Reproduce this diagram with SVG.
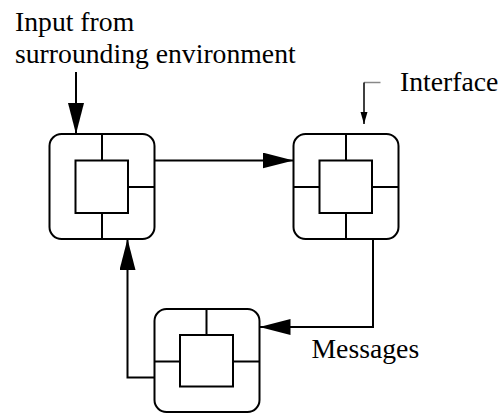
<svg xmlns="http://www.w3.org/2000/svg" width="499" height="413" viewBox="0 0 499 413">
<defs>
<style>
.frame{fill:#fff;stroke:#000;stroke-width:2}
.part{fill:none;stroke:#000;stroke-width:2}
.wire{fill:none;stroke:#000;stroke-width:2}
.lbl{font-family:"Liberation Serif","Times New Roman",serif;font-size:27.7px;fill:#000}
</style>
<marker id="big" markerUnits="userSpaceOnUse" markerWidth="33" markerHeight="17" refX="31" refY="8" orient="auto">
<path d="M0,0 L31,8 L0,16 z" fill="#000"/>
</marker>
<marker id="small" markerUnits="userSpaceOnUse" markerWidth="13" markerHeight="8" refX="12" refY="3.5" orient="auto">
<path d="M0,0 L12,3.5 L0,7 z" fill="#000"/>
</marker>
</defs>
<rect width="499" height="413" fill="#fff"/>
<g id="connectors">
<path class="wire" d="M76,72 L76,134" marker-end="url(#big)"/>
<path class="wire" d="M154.5,160.5 L293.5,160.5" marker-end="url(#big)"/>
<path class="wire" d="M373,239 L373,327 L259.5,327" marker-end="url(#big)"/>
<path class="wire" d="M154,377.5 L127.5,377.5 L127.5,239" marker-end="url(#big)"/>
<path d="M380.5,82.5 L364,82.5" fill="none" stroke="#888" stroke-width="1.5"/>
<path d="M364,82.5 L364,124" fill="none" stroke="#000" stroke-width="1.5" marker-end="url(#small)"/>
</g>
<g id="node1">
<rect class="frame" x="49.5" y="134" width="105" height="105" rx="12"/>
<rect class="part" x="75.5" y="160.5" width="52.5" height="52.5"/>
<path class="part" d="M102,134 V160.5 M102,213 V239 M128,187 H154.5"/>
</g>
<g id="node2">
<rect class="frame" x="293.5" y="134" width="105" height="105" rx="12"/>
<rect class="part" x="319.5" y="160.5" width="52.5" height="52.5"/>
<path class="part" d="M346,134 V160.5 M346,213 V239 M293.5,187 H319.5 M372,187 H398.5"/>
</g>
<g id="node3">
<rect class="frame" x="154.5" y="309" width="105" height="103" rx="12"/>
<rect class="part" x="180" y="335" width="53" height="51.5"/>
<path class="part" d="M206.5,309 V335 M154.5,361.5 H180 M233,361.5 H259.5"/>
</g>
<g id="labels">
<text class="lbl" x="15" y="30.5">Input from</text>
<text class="lbl" x="15" y="62.5">surrounding environment</text>
<text class="lbl" x="400" y="90.5">Interface</text>
<text class="lbl" x="311.5" y="358">Messages</text>
</g>
</svg>
